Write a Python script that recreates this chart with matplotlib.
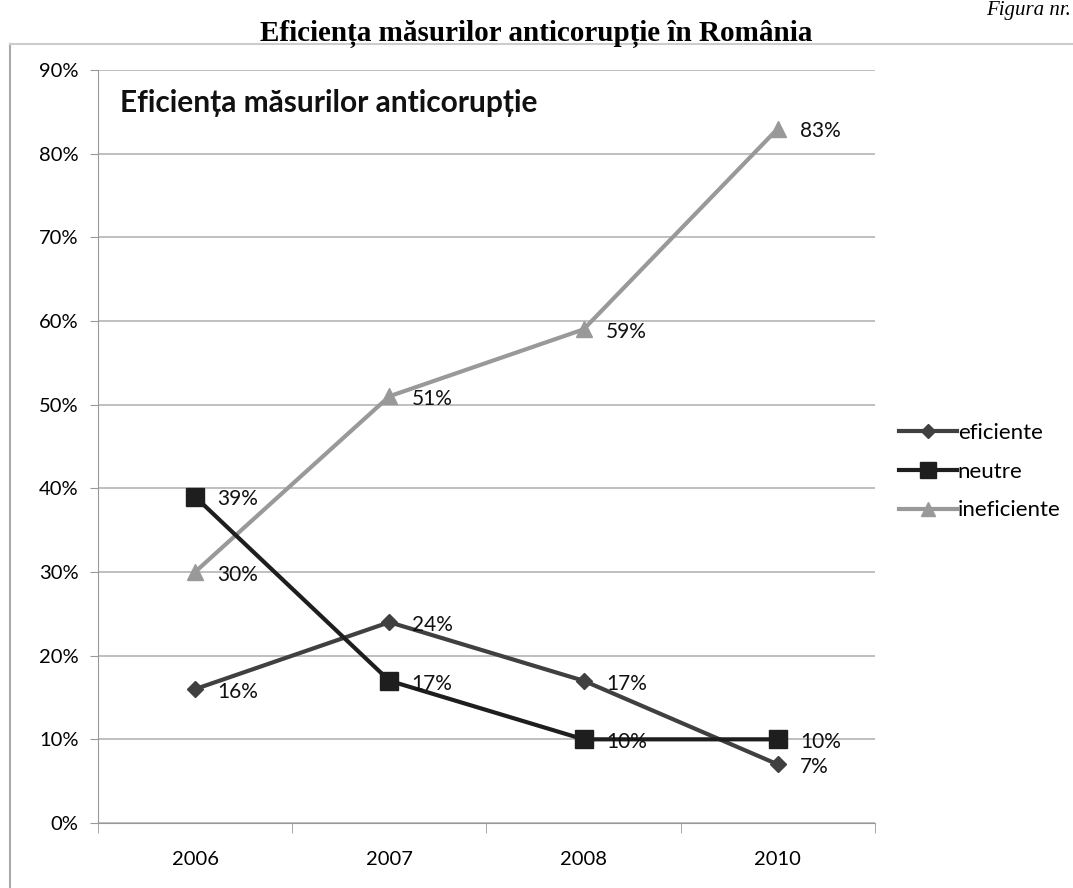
import matplotlib
matplotlib.use('Agg')
import matplotlib.pyplot as plt
from matplotlib.lines import Line2D
import numpy as np

# date
ani = ['2006', '2007', '2008', '2010']
eficiente = [16, 24, 17, 7]
neutre = [39, 17, 10, 10]
ineficiente = [30, 51, 59, 83]
serii = ['eficiente', 'neutre', 'ineficiente']
y_ticks = [0, 10, 20, 30, 40, 50, 60, 70, 80, 90]

plt.rcParams['font.family'] = ['Lato', 'DejaVu Sans']

fig = plt.figure(figsize=(10.73, 8.88), dpi=100)
ax = fig.add_axes([0.0913, 0.0732, 0.7242, 0.848])

x = np.arange(len(ani))
ax.plot(x, ineficiente, color='#999999', lw=3, marker='^', ms=11, zorder=3)
ax.plot(x, eficiente, color='#404040', lw=3, marker='D', ms=8, zorder=4)
ax.plot(x, neutre, color='#1e1e1e', lw=3, marker='s', ms=13, zorder=5)

for vals in (eficiente, neutre, ineficiente):
    for xi, v in zip(x, vals):
        ax.annotate('%d%%' % v, (xi, v), xytext=(16, -2), textcoords='offset points',
                    ha='left', va='center', fontsize=15, color='#111111', zorder=6)

ax.set_xlim(-0.5, 3.5)
ax.set_ylim(0, 90)
ax.set_yticks(y_ticks)
ax.set_yticklabels(['%d%%' % t for t in y_ticks], fontsize=14.5)
ax.set_xticks(x)
ax.set_xticklabels(ani, fontsize=14.5)
ax.set_xticks(np.arange(-0.5, 4, 1), minor=True)
ax.tick_params(axis='x', which='major', length=0, pad=20)
ax.tick_params(axis='x', which='minor', length=7, color='#999999')
ax.tick_params(axis='y', length=6, color='#999999', pad=8)
ax.grid(axis='y', color='#b4b4b4', lw=1.2)
ax.set_axisbelow(True)
for s in ('top', 'right'):
    ax.spines[s].set_visible(False)
ax.spines['left'].set_color('#999999')
ax.spines['bottom'].set_color('#999999')

ax.text(0.028, 0.956, 'Eficiența măsurilor anticorupție', transform=ax.transAxes,
        fontsize=21.5, fontweight='bold', ha='left', va='center', color='#111111')

handles = [
    Line2D([], [], color='#404040', lw=3, marker='D', ms=7),
    Line2D([], [], color='#1e1e1e', lw=3, marker='s', ms=11),
    Line2D([], [], color='#999999', lw=3, marker='^', ms=10),
]
fig.legend(handles, serii, loc='center left', bbox_to_anchor=(0.819, 0.469),
           frameon=False, fontsize=16, handlelength=2.6, handletextpad=0.05,
           labelspacing=0.85)

# chenar
fig.add_artist(Line2D([0.0093, 0.0093], [0.0, 0.951], color='#aaaaaa', lw=1.5,
                      transform=fig.transFigure))
fig.add_artist(Line2D([0.0093, 1.0], [0.951, 0.951], color='#cccccc', lw=1.5,
                      transform=fig.transFigure))

fig.text(0.5, 0.962, 'Eficiența măsurilor anticorupție în România', ha='center', va='center',
         fontsize=21, fontweight='bold', family='Liberation Serif')
fig.text(0.998, 0.988, 'Figura nr.', ha='right', va='center', fontsize=15,
         style='italic', family='Liberation Serif')

fig.savefig('out.png', dpi=100)
